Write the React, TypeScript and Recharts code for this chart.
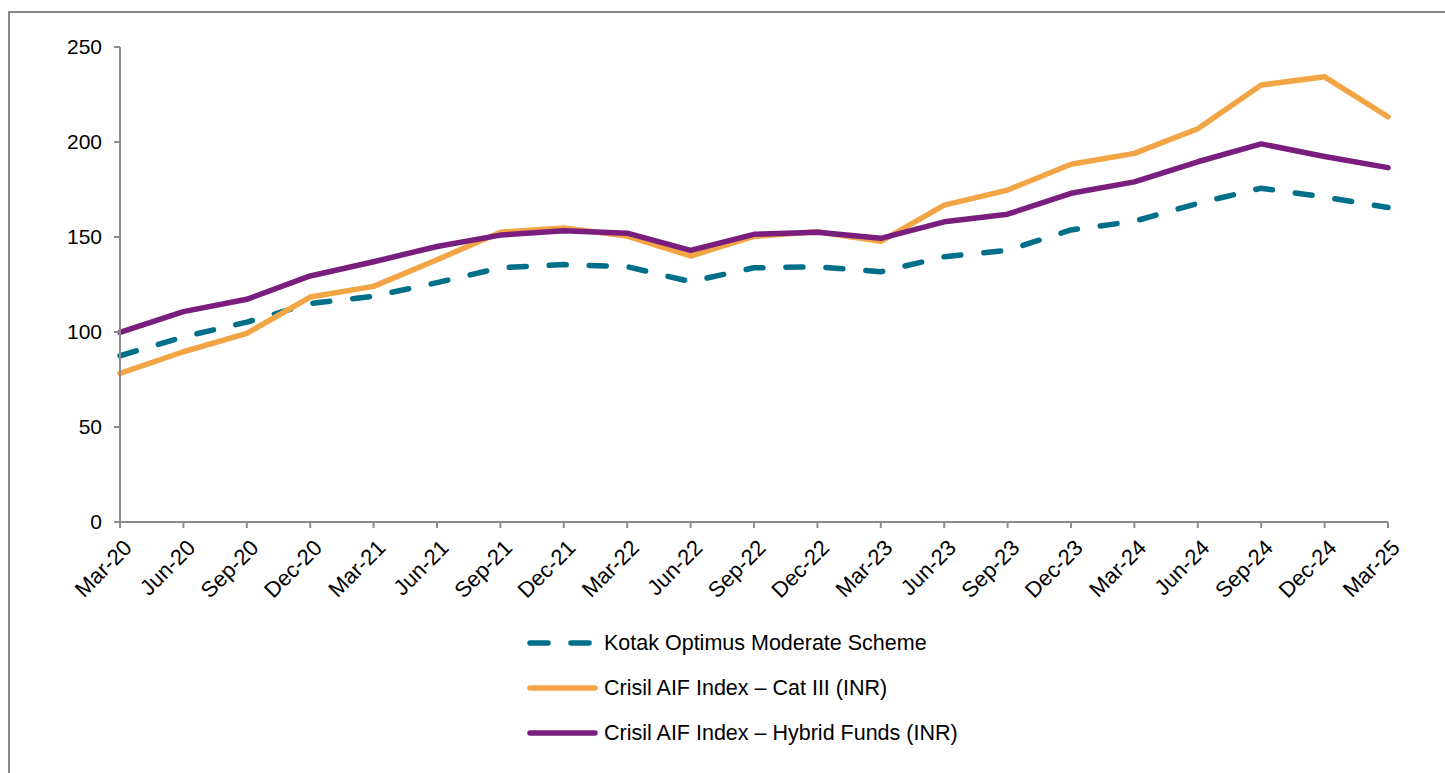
import { LineChart, Line, XAxis, YAxis } from 'recharts'

const quarters = [
  'Mar-20', 'Jun-20', 'Sep-20', 'Dec-20', 'Mar-21', 'Jun-21', 'Sep-21', 'Dec-21',
  'Mar-22', 'Jun-22', 'Sep-22', 'Dec-22', 'Mar-23', 'Jun-23', 'Sep-23', 'Dec-23',
  'Mar-24', 'Jun-24', 'Sep-24', 'Dec-24', 'Mar-25',
]

const kotak = [
  87.5, 97.4, 105.2, 115, 118.8, 126, 133.8, 135.5, 134.4, 126.5, 133.8,
  134.3, 131.7, 139.6, 143, 153.7, 158.3, 167.7, 175.7, 171, 165.5,
]
const catIII = [
  78.2, 89.6, 99.3, 118.4, 124, 138, 152.5, 154.7, 150.5, 140, 150.3,
  152.8, 147.7, 166.8, 174.7, 188.3, 194, 207, 230, 234.3, 213.3,
]
const hybrid = [
  99.8, 110.7, 117.2, 129.5, 137, 145, 151, 153.3, 152, 143, 151.4,
  152.5, 149.3, 158, 162, 173, 179, 189.6, 199, 192.4, 186.5,
]

const yTicks = [0, 50, 100, 150, 200, 250]

const series = [
  { key: 'kotak', name: 'Kotak Optimus Moderate Scheme', color: '#006F8A', dash: '17 23' },
  { key: 'catIII', name: 'Crisil AIF Index – Cat III (INR)', color: '#F2A545', dash: undefined },
  { key: 'hybrid', name: 'Crisil AIF Index – Hybrid Funds (INR)', color: '#791E7E', dash: undefined },
]

const data = quarters.map((q, i) => ({
  quarter: q,
  kotak: kotak[i],
  catIII: catIII[i],
  hybrid: hybrid[i],
}))

const FONT = '"Liberation Sans", Arial, sans-serif'
const AXIS = '#8C8C8C'

function XTick(props: any) {
  const { x, y, payload } = props
  const ax = x + 2
  const ay = y + 8
  return (
    <text
      x={ax}
      y={ay}
      dy="0.72em"
      textAnchor="end"
      transform={`rotate(-45 ${ax} ${ay})`}
      fill="#000"
      fontSize={22}
      fontFamily={FONT}
    >
      {payload.value}
    </text>
  )
}

export default function App() {
  return (
    <div style={{ position: 'absolute', left: 0, top: 0, width: 1445, height: 773, overflow: 'hidden', background: '#fff' }}>
      <div
        style={{
          position: 'absolute', left: 8, top: 11, width: 1500, height: 800,
          borderTop: '2px solid #888', borderLeft: '2px solid #888',
        }}
      />
      <div style={{ position: 'absolute', left: 0, top: 0 }}>
        <LineChart width={1445} height={773} data={data} margin={{ top: 47, right: 57, left: 60, bottom: 0 }}>
          <XAxis
            dataKey="quarter"
            height={251}
            interval={0}
            tick={<XTick />}
            tickSize={6}
            axisLine={{ stroke: AXIS, strokeWidth: 2 }}
            tickLine={{ stroke: AXIS, strokeWidth: 2 }}
          />
          <YAxis
            width={60}
            domain={[0, 250]}
            ticks={yTicks}
            interval={0}
            tickSize={6}
            tickMargin={12}
            axisLine={{ stroke: AXIS, strokeWidth: 2 }}
            tickLine={{ stroke: AXIS, strokeWidth: 2 }}
            tick={{ fill: '#000', fontSize: 21, fontFamily: FONT }}
          />
          {series.map((s) => (
            <Line
              key={s.key}
              type="linear"
              dataKey={s.key}
              name={s.name}
              stroke={s.color}
              strokeWidth={5.5}
              strokeDasharray={s.dash}
              strokeLinecap="round"
              strokeLinejoin="round"
              dot={false}
              activeDot={false}
              isAnimationActive={false}
            />
          ))}
        </LineChart>
      </div>
      {series.map((s, i) => (
        <div
          key={s.key}
          style={{
            position: 'absolute', left: 525, top: 630 + i * 45, height: 26,
            display: 'flex', alignItems: 'center', fontFamily: FONT, fontSize: 21.5, color: '#000',
          }}
        >
          <svg width={76} height={26} style={{ marginRight: 3 }}>
            <line
              x1={5} y1={13} x2={70} y2={13}
              stroke={s.color} strokeWidth={5.5} strokeLinecap="round"
              strokeDasharray={s.dash ? '18 23' : undefined}
            />
          </svg>
          <span style={{ whiteSpace: 'nowrap' }}>{s.name}</span>
        </div>
      ))}
    </div>
  )
}
